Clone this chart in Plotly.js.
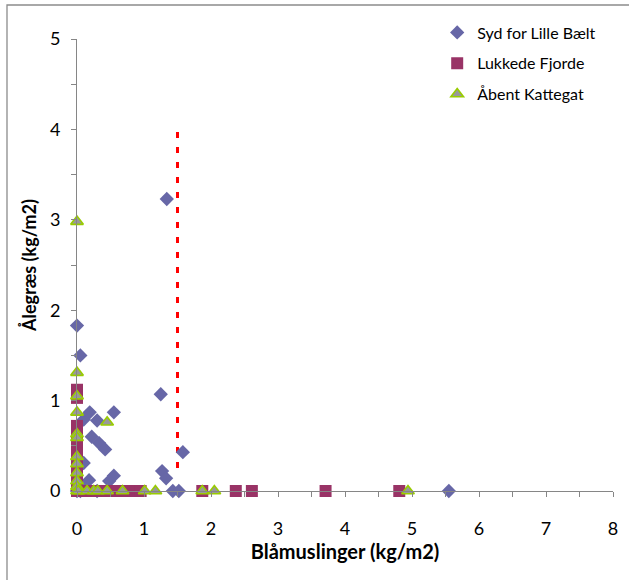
<!DOCTYPE html>
<html>
<head>
<meta charset="utf-8">
<script src="https://cdn.plot.ly/plotly-3.0.1.min.js"></script>
<style>html,body{margin:0;padding:0;background:#fff;}#chart{width:629px;height:580px;}</style>
</head>
<body>
<div id="chart"></div>
<script>
// Series names
const seriesNames = ["Syd for Lille Bælt", "Lukkede Fjorde", "Åbent Kattegat"];

// Syd for Lille Bælt (diamonds)
const sydX = [1.34, 0.00, 0.05, 1.25, 0.19, 0.55, 0.30, 0.10, 0.22, 0.33, 0.42, 1.58, 1.27, 1.33, 1.43, 1.52, 5.55, 0.55, 0.48, 0.18, 0.10, 0.09, 0.00, 0.05, 0.30];
const sydY = [3.23, 1.83, 1.50, 1.07, 0.87, 0.87, 0.78, 0.79, 0.60, 0.53, 0.46, 0.43, 0.22, 0.14, 0.00, 0.00, 0.00, 0.17, 0.11, 0.12, 0.31, 0.04, 0.00, 0.00, 0.00];

// Lukkede Fjorde (squares)
const lukX = [0.05, 0.15, 0.30, 0.45, 0.60, 0.72, 0.85, 0.95, 1.87, 2.37, 2.61, 3.71, 4.81,
              0.00, 0.00, 0.00, 0.00, 0.00, 0.00, 0.00, 0.00, 0.00, 0.00, 0.00];
const lukY = [0.00, 0.00, 0.00, 0.00, 0.00, 0.00, 0.00, 0.00, 0.00, 0.00, 0.00, 0.00, 0.00,
              1.12, 1.03, 0.72, 0.62, 0.52, 0.42, 0.30, 0.20, 0.10, 0.05, 0.00];

// Åbent Kattegat (triangles)
const aabX = [0.00, 0.00, 0.00, 0.00, 0.00, 0.00, 0.00, 0.00, 0.00, 0.00, 0.00, 0.00, 0.45,
              0.02, 0.15, 0.25, 0.31, 0.45, 0.68, 1.01, 1.17, 1.87, 2.05, 4.94];
const aabY = [2.98, 1.31, 1.05, 0.87, 0.63, 0.59, 0.38, 0.30, 0.20, 0.11, 0.05, 0.00, 0.76,
              0.00, 0.00, 0.00, 0.00, 0.00, 0.00, 0.00, 0.00, 0.00, 0.00, 0.00];

// Threshold line
const limitX = [1.5, 1.5];
const limitY = [3.97, 0.17];

const xTickVals = [0, 1, 2, 3, 4, 5, 6, 7, 8];
const yTickVals = [0, 1, 2, 3, 4, 5];

const FONT = "Lato, 'Open Sans', sans-serif";

const traces = [
  {
    x: limitX, y: limitY, mode: "lines", type: "scatter", showlegend: false, hoverinfo: "skip",
    line: {color: "#ff0000", width: 3, dash: "6px,9px"}, cliponaxis: false
  },
  {
    x: sydX, y: sydY, name: seriesNames[0], mode: "markers", type: "scatter", legendgroup: "a",
    marker: {symbol: "diamond", size: 11, color: "#6767a7", line: {width: 0}}, cliponaxis: false
  },
  {
    x: lukX, y: lukY, name: seriesNames[1], mode: "markers", type: "scatter", legendgroup: "b",
    marker: {symbol: "square", size: 12, color: "#993366", line: {width: 0}}, cliponaxis: false
  },
  {
    x: aabX, y: aabY, name: seriesNames[2], mode: "markers", type: "scatter", legendgroup: "c",
    marker: {symbol: "triangle-up", size: 11, color: "#999999", line: {width: 1.6, color: "#99cc00"}}, cliponaxis: false
  }
];

const layout = {
  width: 629, height: 580,
  margin: {l: 77, r: 16, t: 39, b: 89},
  paper_bgcolor: "#ffffff", plot_bgcolor: "#ffffff",
  font: {family: FONT, size: 18, color: "#000000"},
  showlegend: true,
  legend: {
    x: 0.672, y: 1.052, xanchor: "left", yanchor: "top",
    traceorder: "grouped", tracegroupgap: 7,
    font: {family: FONT, size: 16, color: "#000000"},
    bgcolor: "rgba(0,0,0,0)", itemwidth: 30
  },
  xaxis: {
    range: [0, 8], tickvals: xTickVals, ticktext: xTickVals.map(String),
    showgrid: false, zeroline: false, showline: true, linecolor: "#868686", linewidth: 1,
    ticks: "outside", ticklen: 5, tickcolor: "#868686", tickwidth: 1,
    minor: {dtick: 0.5, tick0: 0, ticks: "outside", ticklen: 5, tickcolor: "#868686", tickwidth: 1, showgrid: false},
    ticklabelstandoff: 16,
    tickfont: {family: FONT, size: 18, color: "#000"},
    title: {text: "<b>Blåmuslinger (kg/m2)</b>", font: {family: FONT, size: 20, color: "#000"}, standoff: 6},
    fixedrange: true
  },
  yaxis: {
    range: [0, 5], tickvals: yTickVals, ticktext: yTickVals.map(String),
    showgrid: false, zeroline: false, showline: true, linecolor: "#868686", linewidth: 1,
    ticks: "outside", ticklen: 5, tickcolor: "#868686", tickwidth: 1,
    minor: {dtick: 0.5, tick0: 0, ticks: "outside", ticklen: 5, tickcolor: "#868686", tickwidth: 1, showgrid: false},
    ticklabelstandoff: 7,
    tickfont: {family: FONT, size: 18, color: "#000"},
    title: {text: "<b>Ålegræs (kg/m2)</b>", font: {family: FONT, size: 18, color: "#000"}, standoff: 8},
    fixedrange: true
  },
  shapes: [
    {type: "rect", xref: "paper", yref: "paper", x0: -0.1306, x1: 1.2, y0: -0.4, y1: 1.0752,
     line: {color: "#8c8c8c", width: 1.3}, fillcolor: "rgba(0,0,0,0)", layer: "below"}
  ]
};

Plotly.newPlot("chart", traces, layout, {displayModeBar: false, staticPlot: true});
</script>
</body>
</html>
